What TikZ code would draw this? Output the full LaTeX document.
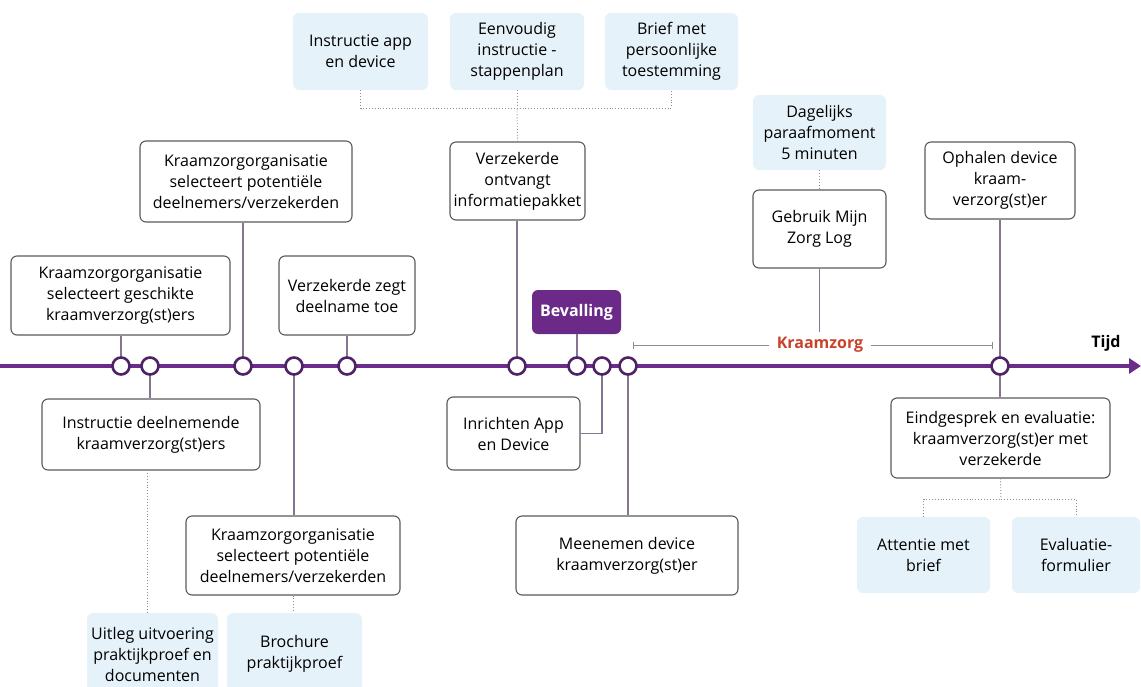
\documentclass[tikz,border=0pt]{standalone}
\usepackage{fontspec}
\setmainfont{Open Sans}
\usetikzlibrary{arrows.meta}
\definecolor{tline}{HTML}{6C2C8C}
\definecolor{ringc}{HTML}{4E2266}
\definecolor{boxedge}{HTML}{5A5A5A}
\definecolor{infofill}{HTML}{E6F2FA}
\definecolor{linkgray}{HTML}{8C8C8C}
\definecolor{linkviolet}{HTML}{857590}
\definecolor{kzred}{HTML}{C9432C}
\definecolor{bevfill}{HTML}{6B2A87}
\newcommand\bodysize{\fontsize{16}{21}\selectfont}
\begin{document}
\begin{tikzpicture}[x=1pt,y=-1pt,
  every node/.style={font=\bodysize, align=center, inner sep=0pt},
  stepbox/.style={draw=boxedge, line width=1.1pt, rounded corners=6pt, fill=white},
  infobox/.style={fill=infofill, rounded corners=6pt},
  ringnode/.style={circle, draw=ringc, line width=2.6pt, fill=white, minimum size=17pt},
  link/.style={draw=linkviolet, line width=1.2pt},
  dotlink/.style={draw=linkgray, line width=0.9pt, dotted}]
\clip (0,0) rectangle (1141,686);

% information boxes (light blue)
\node[infobox, minimum width=135pt, minimum height=77pt] (i1) at (360.5,51.5) {Instructie app\\en device};
\node[infobox, minimum width=134pt, minimum height=77pt] (i2) at (517,51.5) {Eenvoudig\\instructie -\\stappenplan};
\node[infobox, minimum width=133pt, minimum height=77pt] (i3) at (671.5,51.5) {Brief met\\persoonlijke\\toestemming};
\node[infobox, minimum width=133pt, minimum height=75pt] (i4) at (819.5,132.5) {Dagelijks\\paraafmoment\\5 minuten};
\node[infobox, minimum width=133pt, minimum height=76pt] (i5) at (923.5,555) {Attentie met\\brief};
\node[infobox, minimum width=128pt, minimum height=76pt] (i6) at (1076,555) {Evaluatie-\\formulier};
\node[infobox, minimum width=131pt, minimum height=82pt] (i7) at (152.5,654) {Uitleg uitvoering\\praktijkproef en\\documenten};
\node[infobox, minimum width=135pt, minimum height=82pt] (i8) at (294.5,654) {Brochure\\praktijkproef};

% step boxes
\node[stepbox, minimum width=219pt, minimum height=79pt] (b1) at (120.5,295.5) {Kraamzorgorganisatie\\selecteert geschikte\\kraamverzorg(st)ers};
\node[stepbox, minimum width=218pt, minimum height=71pt] (b2) at (151,434.5) {Instructie deelnemende\\kraamverzorg(st)ers};
\node[stepbox, minimum width=212pt, minimum height=81pt] (b3) at (246,181.5) {Kraamzorgorganisatie\\selecteert potentiële\\deelnemers/verzekerden};
\node[stepbox, minimum width=136pt, minimum height=79pt] (b4) at (347,295.5) {Verzekerde zegt\\deelname toe};
\node[stepbox, minimum width=214pt, minimum height=79pt] (b5) at (293,555.5) {Kraamzorgorganisatie\\selecteert potentiële\\deelnemers/verzekerden};
\node[stepbox, minimum width=135pt, minimum height=78pt] (b6) at (517.5,181) {Verzekerde\\ontvangt\\informatiepakket};
\node[stepbox, minimum width=133pt, minimum height=73pt] (b7) at (513.5,433.5) {Inrichten App\\en Device};
\node[stepbox, minimum width=222pt, minimum height=79pt] (b8) at (627,555.5) {Meenemen device\\kraamverzorg(st)er};
\node[stepbox, minimum width=133pt, minimum height=78pt] (b9) at (819.5,229) {Gebruik Mijn\\Zorg Log};
\node[stepbox, minimum width=150pt, minimum height=77pt] (b10) at (1000,180.5) {Ophalen device\\kraam-\\verzorg(st)er};
\node[stepbox, minimum width=219pt, minimum height=80pt] (b11) at (1000.5,438) {Eindgesprek en evaluatie:\\kraamverzorg(st)er met\\verzekerde};
\node[fill=bevfill, rounded corners=6pt, minimum width=89pt, minimum height=44pt, text=white, font=\bodysize\bfseries] (bev) at (576.5,312) {Bevalling};

% timeline
\coordinate (tstart) at (0,366);
\coordinate (tend) at (1141,366);
\draw[tline, line width=3.5pt, -{Triangle[length=12pt,width=15pt]}] (tstart) -- (tend);
\node[font=\bodysize\bfseries] (tijd) at (1106,343) {Tijd};

% care period
\coordinate (kzL) at (633,345);
\coordinate (kzR) at (992,345);
\draw[linkgray, line width=0.8pt] (kzL) -- (kzR);
\draw[linkgray, line width=0.8pt] ([yshift=-3.5pt]kzL) -- ([yshift=3.5pt]kzL);
\draw[linkgray, line width=0.8pt] ([yshift=-3.5pt]kzR) -- ([yshift=3.5pt]kzR);
\node[fill=white, inner xsep=8pt, inner ysep=3pt, text=kzred, font=\bodysize\bfseries] (kz) at (820,345) {Kraamzorg};
\coordinate (b9end) at (819.5,332);

% connectors to the timeline
\path (121,366) coordinate (p1) (150,366) coordinate (p2) (243,366) coordinate (p3)
      (294,366) coordinate (p4) (347,366) coordinate (p5) (517,366) coordinate (p6)
      (577,366) coordinate (p7) (602,366) coordinate (p8) (628,366) coordinate (p9)
      (1000,366) coordinate (p10);
\draw[link] (p1) -- (p1 |- b1.south);
\draw[link] (p2) -- (p2 |- b2.north);
\draw[link] (p3) -- (p3 |- b3.south);
\draw[link] (p4) -- (p4 |- b5.north);
\draw[link] (p5) -- (p5 |- b4.south);
\draw[link] (p6) -- (p6 |- b6.south);
\draw[link] (p7) -- (p7 |- bev.south);
\draw[link] (p8) |- (b7.east);
\draw[link] (p9) -- (p9 |- b8.north);
\draw[link] (p10 |- b10.south) -- (p10 |- b11.north);
\draw[link] (b9.south) -- (b9end);

% event markers
\foreach \k in {1,...,10} { \node[ringnode] (c\k) at (p\k) {}; }

% dotted links to the information boxes
\coordinate (d1) at (147,470);
\draw[dotlink] (d1) -- (d1 |- i7.north);
\draw[dotlink] (b5.south) -- (b5.south |- i8.north);
\coordinate (jtop) at (517,108);
\draw[dotlink] (b6.north) -- (jtop);
\draw[dotlink] (i1.south) |- (jtop) -| (i3.south);
\draw[dotlink] (i2.south) -- (jtop);
\draw[dotlink] (i4.south) -- (b9.north);
\coordinate (jbot) at (1001,499);
\draw[dotlink] (b11.south) -- (jbot);
\draw[dotlink] (i5.north) |- (jbot) -| (i6.north);
\end{tikzpicture}
\end{document}
